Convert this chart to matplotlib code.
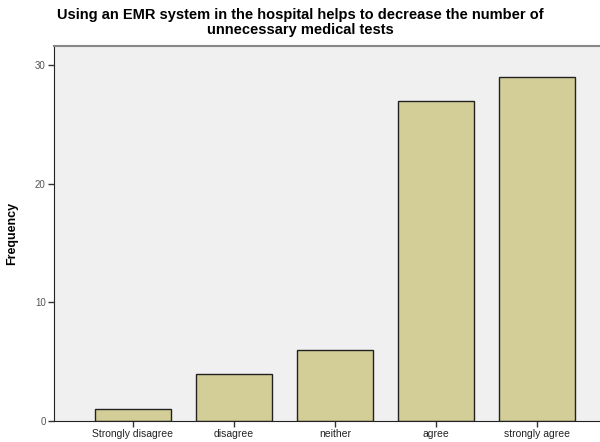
import numpy as np
import matplotlib.pyplot as plt

categories = ['Strongly disagree', 'disagree', 'neither', 'agree', 'strongly agree']
counts = [1, 4, 6, 27, 29]
yticks = [0, 10, 20, 30]

plt.rcParams['font.family'] = ['Liberation Sans', 'DejaVu Sans']

fig = plt.figure(figsize=(6, 4.42), dpi=100)
# plot area runs past the right edge, as in the cropped reference
ax = fig.add_axes([54 / 600, 1 - 421 / 442, 562 / 600, 375 / 442])
ax.set_facecolor('#f0f0f0')

x = np.arange(len(categories))
ax.bar(x, counts, width=0.75, color='#d3ce97', edgecolor='#222222', linewidth=1.0)

ax.set_xlim(-0.78, 4.78)
ax.set_ylim(0, 31.6)
ax.set_xticks(x)
ax.set_xticklabels(categories, fontsize=7.5, color='#222222')
ax.set_yticks(yticks)
ax.set_yticklabels([str(v) for v in yticks], fontsize=7, color='#555555')
ax.tick_params(direction='out', length=4, width=1, color='#333333', pad=2)

ax.spines['right'].set_visible(False)
ax.spines['top'].set_color('#888888')
ax.spines['top'].set_linewidth(1.5)
ax.spines['left'].set_color('#222222')
ax.spines['bottom'].set_color('#222222')

ax.set_ylabel('Frequency', fontsize=9, fontweight='bold')
ax.yaxis.set_label_coords(-0.064, 0.5)

fig.text(0.5, 1 - 8 / 442, 'Using an EMR system in the hospital helps to decrease the number of\nunnecessary medical tests',
         ha='center', va='top', fontsize=10.5, fontweight='bold', linespacing=1.1)

fig.savefig('out.png', dpi=100)
